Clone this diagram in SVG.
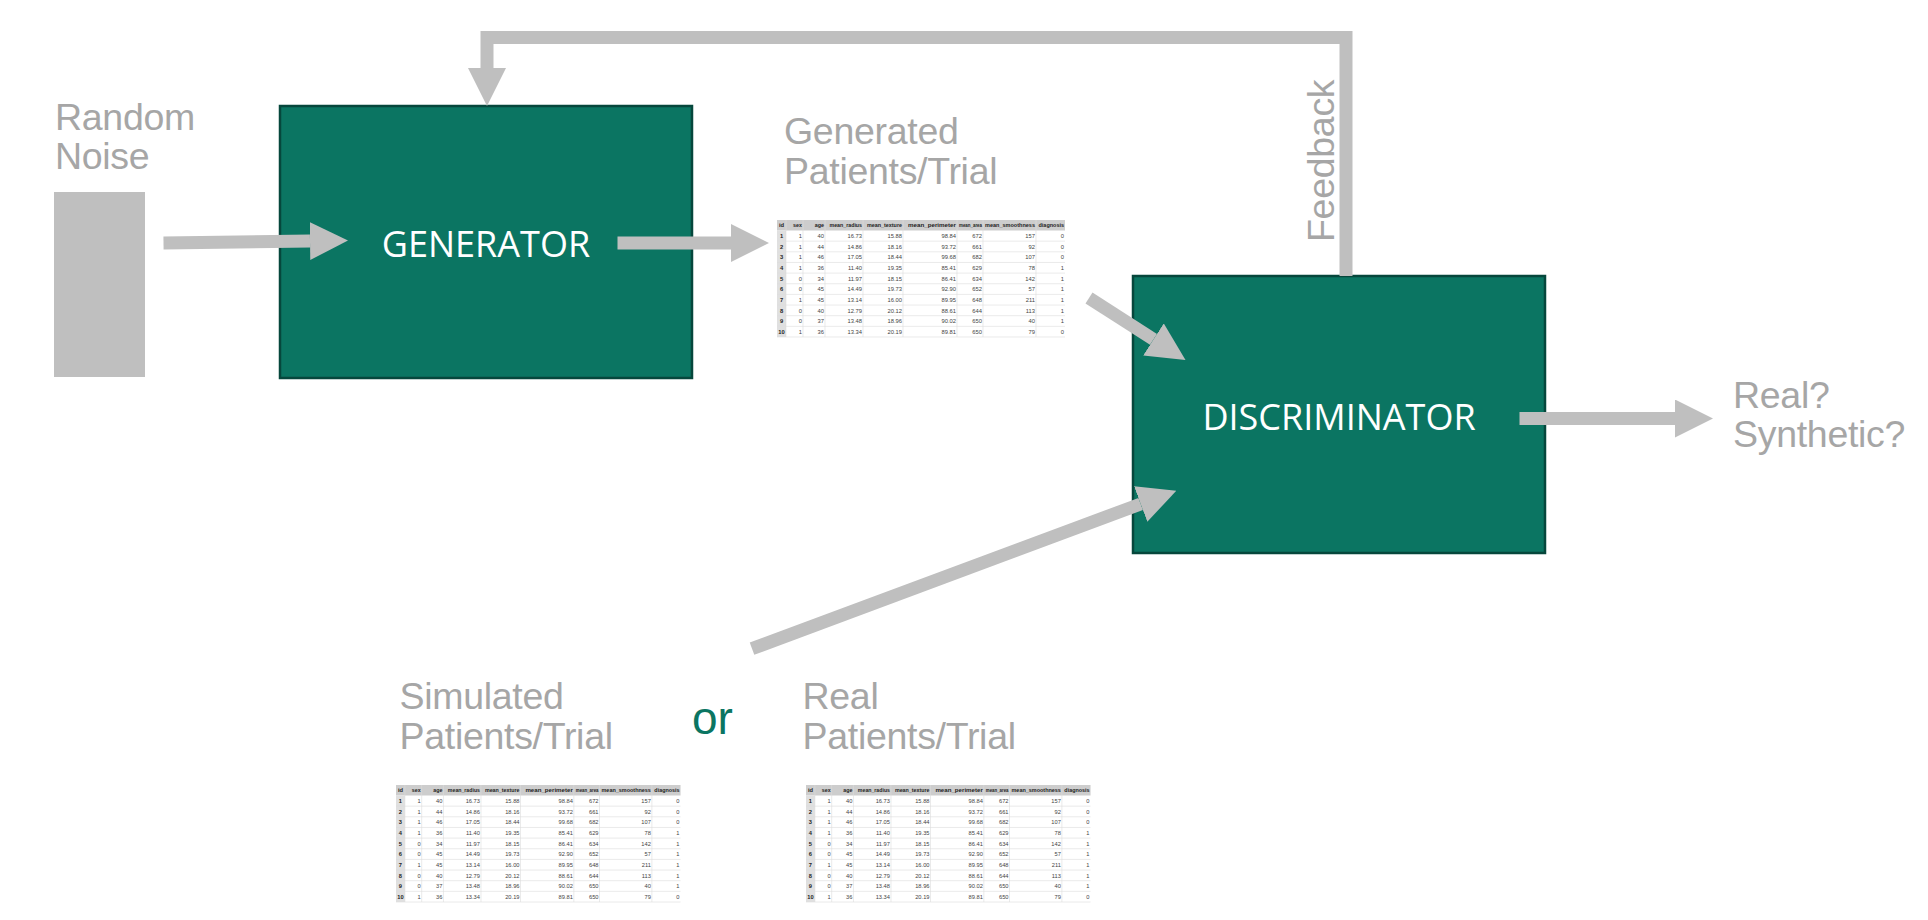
<svg xmlns="http://www.w3.org/2000/svg" width="1928" height="920" viewBox="0 0 1928 920">
<style>
.lbl{font-family:"Liberation Sans",Arial,sans-serif;font-size:37.5px;fill:#a6a6a6;letter-spacing:-0.3px}
.box{fill:#0b7562;stroke:#06473c;stroke-width:2.5}
.btxt{font-family:"Open Sans","Liberation Sans",sans-serif;font-size:36px;fill:#ffffff;text-anchor:middle}
.or{font-family:"Liberation Sans",Arial,sans-serif;font-size:46px;fill:#0b7562}
.conn{fill:none;stroke:#bfbfbf;stroke-width:13;stroke-linecap:butt;stroke-linejoin:miter}
.grid{fill:none;stroke:#dcdcdc;stroke-width:0.6}
.h{font-family:"Liberation Sans",Arial,sans-serif;font-size:5.4px;font-weight:bold;fill:#222;text-anchor:end}
.d{font-family:"Liberation Sans",Arial,sans-serif;font-size:5.8px;fill:#444;text-anchor:end}
.i{font-family:"Liberation Sans",Arial,sans-serif;font-size:5.8px;font-weight:bold;fill:#222;text-anchor:middle}
</style>
<defs>
<marker id="ah" viewBox="0 0 38 38" refX="0" refY="19" markerWidth="38" markerHeight="38" markerUnits="userSpaceOnUse" orient="auto">
<path d="M0 0L38 19L0 38z" fill="#bfbfbf"/>
</marker>
</defs>

<g id="noise">
<text class="lbl" x="55" y="129.5">Random</text>
<text class="lbl" x="55" y="168.5">Noise</text>
<rect x="54" y="192" width="91" height="185" fill="#bfbfbf"/>
</g>

<g id="generator">
<rect class="box" x="280" y="106" width="412" height="272"/>
<text class="btxt" x="486" y="257">GENERATOR</text>
</g>

<g id="discriminator">
<rect class="box" x="1133" y="276" width="412" height="277"/>
<text class="btxt" x="1339" y="429.5">DISCRIMINATOR</text>
</g>

<g id="generated">
<text class="lbl" x="784" y="144">Generated</text>
<text class="lbl" x="784" y="183.5">Patients/Trial</text>
<g transform="translate(777,220)">
<rect width="288" height="117" fill="#fff"/>
<rect width="288" height="10.5" fill="#cdcdcd"/>
<rect y="10.5" width="9" height="106.5" fill="#e0e0e0"/>
<path class="grid" d="M0 21.15H288M0 31.8H288M0 42.45H288M0 53.1H288M0 63.75H288M0 74.4H288M0 85.05H288M0 95.7H288M0 106.35H288M0 117H288M9 0V117M26 0V117M48 0V117M86 0V117M126 0V117M180 0V117M206 0V117M259 0V117"/>
<text class="i" x="4.5" y="7.4">id</text>
<text class="h" x="25" y="7.4">sex</text>
<text class="h" x="47" y="7.4">age</text>
<text class="h" x="85" y="7.4" textLength="32.5" lengthAdjust="spacingAndGlyphs">mean_radius</text>
<text class="h" x="125" y="7.4" textLength="35" lengthAdjust="spacingAndGlyphs">mean_texture</text>
<text class="h" x="179" y="7.4" textLength="48" lengthAdjust="spacingAndGlyphs">mean_perimeter</text>
<text class="h" x="205" y="7.4" textLength="23" lengthAdjust="spacingAndGlyphs">mean_area</text>
<text class="h" x="258" y="7.4" textLength="50" lengthAdjust="spacingAndGlyphs">mean_smoothness</text>
<text class="h" x="287" y="7.4" textLength="25.5" lengthAdjust="spacingAndGlyphs">diagnosis</text>
<text class="i"><tspan x="4.5" y="18.1">1</tspan><tspan x="4.5" y="28.75">2</tspan><tspan x="4.5" y="39.4">3</tspan><tspan x="4.5" y="50.05">4</tspan><tspan x="4.5" y="60.7">5</tspan><tspan x="4.5" y="71.35">6</tspan><tspan x="4.5" y="82">7</tspan><tspan x="4.5" y="92.65">8</tspan><tspan x="4.5" y="103.3">9</tspan><tspan x="4.5" y="113.95">10</tspan></text>
<text class="d"><tspan x="25" y="18.1">1</tspan><tspan x="25" y="28.75">1</tspan><tspan x="25" y="39.4">1</tspan><tspan x="25" y="50.05">1</tspan><tspan x="25" y="60.7">0</tspan><tspan x="25" y="71.35">0</tspan><tspan x="25" y="82">1</tspan><tspan x="25" y="92.65">0</tspan><tspan x="25" y="103.3">0</tspan><tspan x="25" y="113.95">1</tspan></text>
<text class="d"><tspan x="47" y="18.1">40</tspan><tspan x="47" y="28.75">44</tspan><tspan x="47" y="39.4">46</tspan><tspan x="47" y="50.05">36</tspan><tspan x="47" y="60.7">34</tspan><tspan x="47" y="71.35">45</tspan><tspan x="47" y="82">45</tspan><tspan x="47" y="92.65">40</tspan><tspan x="47" y="103.3">37</tspan><tspan x="47" y="113.95">36</tspan></text>
<text class="d"><tspan x="85" y="18.1">16.73</tspan><tspan x="85" y="28.75">14.86</tspan><tspan x="85" y="39.4">17.05</tspan><tspan x="85" y="50.05">11.40</tspan><tspan x="85" y="60.7">11.97</tspan><tspan x="85" y="71.35">14.49</tspan><tspan x="85" y="82">13.14</tspan><tspan x="85" y="92.65">12.79</tspan><tspan x="85" y="103.3">13.48</tspan><tspan x="85" y="113.95">13.34</tspan></text>
<text class="d"><tspan x="125" y="18.1">15.88</tspan><tspan x="125" y="28.75">18.16</tspan><tspan x="125" y="39.4">18.44</tspan><tspan x="125" y="50.05">19.35</tspan><tspan x="125" y="60.7">18.15</tspan><tspan x="125" y="71.35">19.73</tspan><tspan x="125" y="82">16.00</tspan><tspan x="125" y="92.65">20.12</tspan><tspan x="125" y="103.3">18.96</tspan><tspan x="125" y="113.95">20.19</tspan></text>
<text class="d"><tspan x="179" y="18.1">98.84</tspan><tspan x="179" y="28.75">93.72</tspan><tspan x="179" y="39.4">99.68</tspan><tspan x="179" y="50.05">85.41</tspan><tspan x="179" y="60.7">86.41</tspan><tspan x="179" y="71.35">92.90</tspan><tspan x="179" y="82">89.95</tspan><tspan x="179" y="92.65">88.61</tspan><tspan x="179" y="103.3">90.02</tspan><tspan x="179" y="113.95">89.81</tspan></text>
<text class="d"><tspan x="205" y="18.1">672</tspan><tspan x="205" y="28.75">661</tspan><tspan x="205" y="39.4">682</tspan><tspan x="205" y="50.05">629</tspan><tspan x="205" y="60.7">634</tspan><tspan x="205" y="71.35">652</tspan><tspan x="205" y="82">648</tspan><tspan x="205" y="92.65">644</tspan><tspan x="205" y="103.3">650</tspan><tspan x="205" y="113.95">650</tspan></text>
<text class="d"><tspan x="258" y="18.1">157</tspan><tspan x="258" y="28.75">92</tspan><tspan x="258" y="39.4">107</tspan><tspan x="258" y="50.05">78</tspan><tspan x="258" y="60.7">142</tspan><tspan x="258" y="71.35">57</tspan><tspan x="258" y="82">211</tspan><tspan x="258" y="92.65">113</tspan><tspan x="258" y="103.3">40</tspan><tspan x="258" y="113.95">79</tspan></text>
<text class="d"><tspan x="287" y="18.1">0</tspan><tspan x="287" y="28.75">0</tspan><tspan x="287" y="39.4">0</tspan><tspan x="287" y="50.05">1</tspan><tspan x="287" y="60.7">1</tspan><tspan x="287" y="71.35">1</tspan><tspan x="287" y="82">1</tspan><tspan x="287" y="92.65">1</tspan><tspan x="287" y="103.3">1</tspan><tspan x="287" y="113.95">0</tspan></text>
</g>
</g>

<g id="simulated">
<text class="lbl" x="399.5" y="708.5">Simulated</text>
<text class="lbl" x="399.5" y="748.5">Patients/Trial</text>
<g transform="translate(396,785) scale(0.988,1)">
<rect width="288" height="117" fill="#fff"/>
<rect width="288" height="10.5" fill="#cdcdcd"/>
<rect y="10.5" width="9" height="106.5" fill="#e0e0e0"/>
<path class="grid" d="M0 21.15H288M0 31.8H288M0 42.45H288M0 53.1H288M0 63.75H288M0 74.4H288M0 85.05H288M0 95.7H288M0 106.35H288M0 117H288M9 0V117M26 0V117M48 0V117M86 0V117M126 0V117M180 0V117M206 0V117M259 0V117"/>
<text class="i" x="4.5" y="7.4">id</text>
<text class="h" x="25" y="7.4">sex</text>
<text class="h" x="47" y="7.4">age</text>
<text class="h" x="85" y="7.4" textLength="32.5" lengthAdjust="spacingAndGlyphs">mean_radius</text>
<text class="h" x="125" y="7.4" textLength="35" lengthAdjust="spacingAndGlyphs">mean_texture</text>
<text class="h" x="179" y="7.4" textLength="48" lengthAdjust="spacingAndGlyphs">mean_perimeter</text>
<text class="h" x="205" y="7.4" textLength="23" lengthAdjust="spacingAndGlyphs">mean_area</text>
<text class="h" x="258" y="7.4" textLength="50" lengthAdjust="spacingAndGlyphs">mean_smoothness</text>
<text class="h" x="287" y="7.4" textLength="25.5" lengthAdjust="spacingAndGlyphs">diagnosis</text>
<text class="i"><tspan x="4.5" y="18.1">1</tspan><tspan x="4.5" y="28.75">2</tspan><tspan x="4.5" y="39.4">3</tspan><tspan x="4.5" y="50.05">4</tspan><tspan x="4.5" y="60.7">5</tspan><tspan x="4.5" y="71.35">6</tspan><tspan x="4.5" y="82">7</tspan><tspan x="4.5" y="92.65">8</tspan><tspan x="4.5" y="103.3">9</tspan><tspan x="4.5" y="113.95">10</tspan></text>
<text class="d"><tspan x="25" y="18.1">1</tspan><tspan x="25" y="28.75">1</tspan><tspan x="25" y="39.4">1</tspan><tspan x="25" y="50.05">1</tspan><tspan x="25" y="60.7">0</tspan><tspan x="25" y="71.35">0</tspan><tspan x="25" y="82">1</tspan><tspan x="25" y="92.65">0</tspan><tspan x="25" y="103.3">0</tspan><tspan x="25" y="113.95">1</tspan></text>
<text class="d"><tspan x="47" y="18.1">40</tspan><tspan x="47" y="28.75">44</tspan><tspan x="47" y="39.4">46</tspan><tspan x="47" y="50.05">36</tspan><tspan x="47" y="60.7">34</tspan><tspan x="47" y="71.35">45</tspan><tspan x="47" y="82">45</tspan><tspan x="47" y="92.65">40</tspan><tspan x="47" y="103.3">37</tspan><tspan x="47" y="113.95">36</tspan></text>
<text class="d"><tspan x="85" y="18.1">16.73</tspan><tspan x="85" y="28.75">14.86</tspan><tspan x="85" y="39.4">17.05</tspan><tspan x="85" y="50.05">11.40</tspan><tspan x="85" y="60.7">11.97</tspan><tspan x="85" y="71.35">14.49</tspan><tspan x="85" y="82">13.14</tspan><tspan x="85" y="92.65">12.79</tspan><tspan x="85" y="103.3">13.48</tspan><tspan x="85" y="113.95">13.34</tspan></text>
<text class="d"><tspan x="125" y="18.1">15.88</tspan><tspan x="125" y="28.75">18.16</tspan><tspan x="125" y="39.4">18.44</tspan><tspan x="125" y="50.05">19.35</tspan><tspan x="125" y="60.7">18.15</tspan><tspan x="125" y="71.35">19.73</tspan><tspan x="125" y="82">16.00</tspan><tspan x="125" y="92.65">20.12</tspan><tspan x="125" y="103.3">18.96</tspan><tspan x="125" y="113.95">20.19</tspan></text>
<text class="d"><tspan x="179" y="18.1">98.84</tspan><tspan x="179" y="28.75">93.72</tspan><tspan x="179" y="39.4">99.68</tspan><tspan x="179" y="50.05">85.41</tspan><tspan x="179" y="60.7">86.41</tspan><tspan x="179" y="71.35">92.90</tspan><tspan x="179" y="82">89.95</tspan><tspan x="179" y="92.65">88.61</tspan><tspan x="179" y="103.3">90.02</tspan><tspan x="179" y="113.95">89.81</tspan></text>
<text class="d"><tspan x="205" y="18.1">672</tspan><tspan x="205" y="28.75">661</tspan><tspan x="205" y="39.4">682</tspan><tspan x="205" y="50.05">629</tspan><tspan x="205" y="60.7">634</tspan><tspan x="205" y="71.35">652</tspan><tspan x="205" y="82">648</tspan><tspan x="205" y="92.65">644</tspan><tspan x="205" y="103.3">650</tspan><tspan x="205" y="113.95">650</tspan></text>
<text class="d"><tspan x="258" y="18.1">157</tspan><tspan x="258" y="28.75">92</tspan><tspan x="258" y="39.4">107</tspan><tspan x="258" y="50.05">78</tspan><tspan x="258" y="60.7">142</tspan><tspan x="258" y="71.35">57</tspan><tspan x="258" y="82">211</tspan><tspan x="258" y="92.65">113</tspan><tspan x="258" y="103.3">40</tspan><tspan x="258" y="113.95">79</tspan></text>
<text class="d"><tspan x="287" y="18.1">0</tspan><tspan x="287" y="28.75">0</tspan><tspan x="287" y="39.4">0</tspan><tspan x="287" y="50.05">1</tspan><tspan x="287" y="60.7">1</tspan><tspan x="287" y="71.35">1</tspan><tspan x="287" y="82">1</tspan><tspan x="287" y="92.65">1</tspan><tspan x="287" y="103.3">1</tspan><tspan x="287" y="113.95">0</tspan></text>
</g>
</g>

<g id="or-label">
<text class="or" x="692" y="734">or</text>
</g>

<g id="real">
<text class="lbl" x="802.5" y="708.5">Real</text>
<text class="lbl" x="802.5" y="748.5">Patients/Trial</text>
<g transform="translate(806,785) scale(0.988,1)">
<rect width="288" height="117" fill="#fff"/>
<rect width="288" height="10.5" fill="#cdcdcd"/>
<rect y="10.5" width="9" height="106.5" fill="#e0e0e0"/>
<path class="grid" d="M0 21.15H288M0 31.8H288M0 42.45H288M0 53.1H288M0 63.75H288M0 74.4H288M0 85.05H288M0 95.7H288M0 106.35H288M0 117H288M9 0V117M26 0V117M48 0V117M86 0V117M126 0V117M180 0V117M206 0V117M259 0V117"/>
<text class="i" x="4.5" y="7.4">id</text>
<text class="h" x="25" y="7.4">sex</text>
<text class="h" x="47" y="7.4">age</text>
<text class="h" x="85" y="7.4" textLength="32.5" lengthAdjust="spacingAndGlyphs">mean_radius</text>
<text class="h" x="125" y="7.4" textLength="35" lengthAdjust="spacingAndGlyphs">mean_texture</text>
<text class="h" x="179" y="7.4" textLength="48" lengthAdjust="spacingAndGlyphs">mean_perimeter</text>
<text class="h" x="205" y="7.4" textLength="23" lengthAdjust="spacingAndGlyphs">mean_area</text>
<text class="h" x="258" y="7.4" textLength="50" lengthAdjust="spacingAndGlyphs">mean_smoothness</text>
<text class="h" x="287" y="7.4" textLength="25.5" lengthAdjust="spacingAndGlyphs">diagnosis</text>
<text class="i"><tspan x="4.5" y="18.1">1</tspan><tspan x="4.5" y="28.75">2</tspan><tspan x="4.5" y="39.4">3</tspan><tspan x="4.5" y="50.05">4</tspan><tspan x="4.5" y="60.7">5</tspan><tspan x="4.5" y="71.35">6</tspan><tspan x="4.5" y="82">7</tspan><tspan x="4.5" y="92.65">8</tspan><tspan x="4.5" y="103.3">9</tspan><tspan x="4.5" y="113.95">10</tspan></text>
<text class="d"><tspan x="25" y="18.1">1</tspan><tspan x="25" y="28.75">1</tspan><tspan x="25" y="39.4">1</tspan><tspan x="25" y="50.05">1</tspan><tspan x="25" y="60.7">0</tspan><tspan x="25" y="71.35">0</tspan><tspan x="25" y="82">1</tspan><tspan x="25" y="92.65">0</tspan><tspan x="25" y="103.3">0</tspan><tspan x="25" y="113.95">1</tspan></text>
<text class="d"><tspan x="47" y="18.1">40</tspan><tspan x="47" y="28.75">44</tspan><tspan x="47" y="39.4">46</tspan><tspan x="47" y="50.05">36</tspan><tspan x="47" y="60.7">34</tspan><tspan x="47" y="71.35">45</tspan><tspan x="47" y="82">45</tspan><tspan x="47" y="92.65">40</tspan><tspan x="47" y="103.3">37</tspan><tspan x="47" y="113.95">36</tspan></text>
<text class="d"><tspan x="85" y="18.1">16.73</tspan><tspan x="85" y="28.75">14.86</tspan><tspan x="85" y="39.4">17.05</tspan><tspan x="85" y="50.05">11.40</tspan><tspan x="85" y="60.7">11.97</tspan><tspan x="85" y="71.35">14.49</tspan><tspan x="85" y="82">13.14</tspan><tspan x="85" y="92.65">12.79</tspan><tspan x="85" y="103.3">13.48</tspan><tspan x="85" y="113.95">13.34</tspan></text>
<text class="d"><tspan x="125" y="18.1">15.88</tspan><tspan x="125" y="28.75">18.16</tspan><tspan x="125" y="39.4">18.44</tspan><tspan x="125" y="50.05">19.35</tspan><tspan x="125" y="60.7">18.15</tspan><tspan x="125" y="71.35">19.73</tspan><tspan x="125" y="82">16.00</tspan><tspan x="125" y="92.65">20.12</tspan><tspan x="125" y="103.3">18.96</tspan><tspan x="125" y="113.95">20.19</tspan></text>
<text class="d"><tspan x="179" y="18.1">98.84</tspan><tspan x="179" y="28.75">93.72</tspan><tspan x="179" y="39.4">99.68</tspan><tspan x="179" y="50.05">85.41</tspan><tspan x="179" y="60.7">86.41</tspan><tspan x="179" y="71.35">92.90</tspan><tspan x="179" y="82">89.95</tspan><tspan x="179" y="92.65">88.61</tspan><tspan x="179" y="103.3">90.02</tspan><tspan x="179" y="113.95">89.81</tspan></text>
<text class="d"><tspan x="205" y="18.1">672</tspan><tspan x="205" y="28.75">661</tspan><tspan x="205" y="39.4">682</tspan><tspan x="205" y="50.05">629</tspan><tspan x="205" y="60.7">634</tspan><tspan x="205" y="71.35">652</tspan><tspan x="205" y="82">648</tspan><tspan x="205" y="92.65">644</tspan><tspan x="205" y="103.3">650</tspan><tspan x="205" y="113.95">650</tspan></text>
<text class="d"><tspan x="258" y="18.1">157</tspan><tspan x="258" y="28.75">92</tspan><tspan x="258" y="39.4">107</tspan><tspan x="258" y="50.05">78</tspan><tspan x="258" y="60.7">142</tspan><tspan x="258" y="71.35">57</tspan><tspan x="258" y="82">211</tspan><tspan x="258" y="92.65">113</tspan><tspan x="258" y="103.3">40</tspan><tspan x="258" y="113.95">79</tspan></text>
<text class="d"><tspan x="287" y="18.1">0</tspan><tspan x="287" y="28.75">0</tspan><tspan x="287" y="39.4">0</tspan><tspan x="287" y="50.05">1</tspan><tspan x="287" y="60.7">1</tspan><tspan x="287" y="71.35">1</tspan><tspan x="287" y="82">1</tspan><tspan x="287" y="92.65">1</tspan><tspan x="287" y="103.3">1</tspan><tspan x="287" y="113.95">0</tspan></text>
</g>
</g>

<g id="output">
<text class="lbl" x="1733" y="407.5">Real?</text>
<text class="lbl" x="1733" y="447">Synthetic?</text>
</g>

<g id="feedback-label">
<text class="lbl" x="1334" y="242" transform="rotate(-90 1334 242)">Feedback</text>
</g>

<g id="connectors">
<line class="conn" x1="163.5" y1="243" x2="310" y2="241" marker-end="url(#ah)"/>
<line class="conn" x1="617.5" y1="243" x2="731" y2="243" marker-end="url(#ah)"/>
<path class="conn" d="M1346 276V37.5H487V68" marker-end="url(#ah)"/>
<line class="conn" x1="1089" y1="298" x2="1153.5" y2="339.4" marker-end="url(#ah)"/>
<line class="conn" x1="752" y1="648.7" x2="1140.7" y2="504" marker-end="url(#ah)"/>
<line class="conn" x1="1519.5" y1="418.5" x2="1675" y2="418.5" marker-end="url(#ah)"/>
</g>
</svg>
